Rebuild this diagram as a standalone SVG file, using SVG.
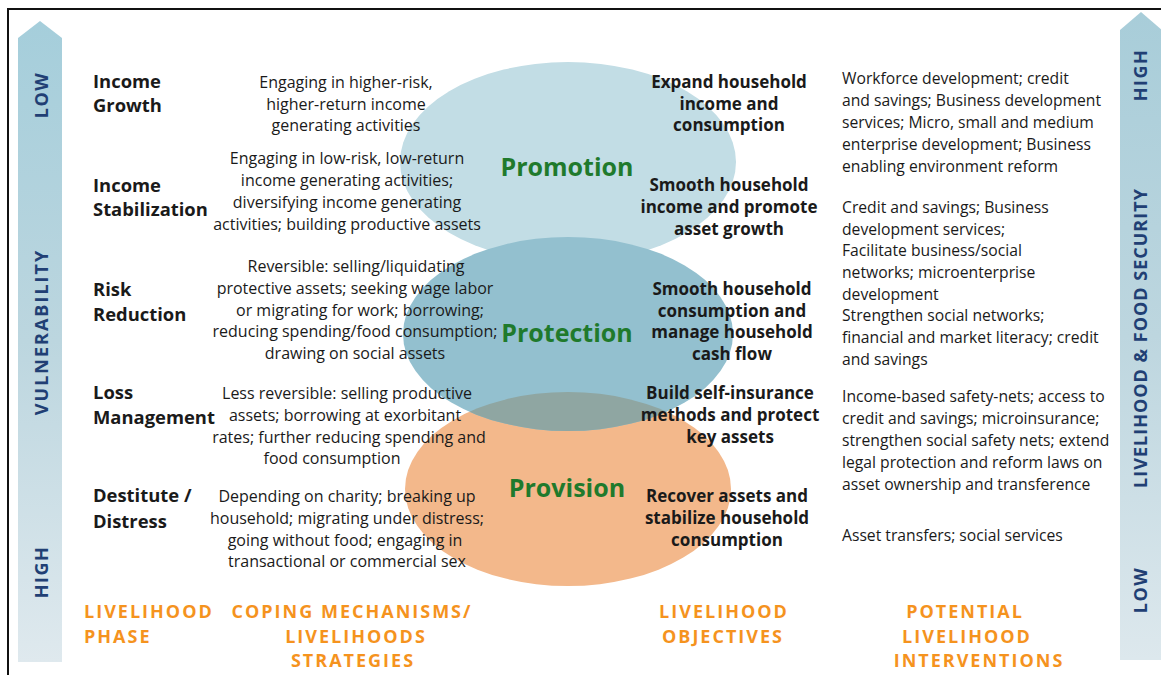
<svg xmlns="http://www.w3.org/2000/svg" width="1161" height="675" viewBox="0 0 1161 675">
<defs>
<linearGradient id="gl" x1="0" y1="0" x2="0" y2="1">
<stop offset="0" stop-color="#a5cedb"/>
<stop offset="0.5" stop-color="#bcd6df"/>
<stop offset="1" stop-color="#dfe9ee"/>
</linearGradient>
<linearGradient id="gr" x1="0" y1="0" x2="0" y2="1">
<stop offset="0" stop-color="#a8cdd9"/>
<stop offset="0.5" stop-color="#bdd6df"/>
<stop offset="1" stop-color="#dde8ed"/>
</linearGradient>
<clipPath id="provClip"><ellipse cx="568" cy="489" rx="163" ry="97"/></clipPath>
</defs>
<style>
.ph{font-family:"Open Sans","Liberation Sans",sans-serif;font-weight:bold;font-size:18.4px;fill:#1a1a1a}
.cp{font-family:"Open Sans","Liberation Sans",sans-serif;font-size:16px;fill:#1a1a1a;text-anchor:middle}
.ob{font-family:"Open Sans","Liberation Sans",sans-serif;font-weight:bold;font-size:17px;fill:#1a1a1a;text-anchor:middle}
.iv{font-family:"Open Sans","Liberation Sans",sans-serif;font-size:15.7px;fill:#1a1a1a}
.el{font-family:"Open Sans","Liberation Sans",sans-serif;font-weight:bold;font-size:25px;fill:#1f7a2c;text-anchor:middle}
.hd{font-family:"Open Sans","Liberation Sans",sans-serif;font-weight:bold;font-size:18px;fill:#f5931e;letter-spacing:2px}
.ax{font-family:"Open Sans","Liberation Sans",sans-serif;font-weight:bold;font-size:18px;fill:#213f74;text-anchor:middle;letter-spacing:1.5px}
.ax2{letter-spacing:1px}
.ax3{letter-spacing:2px}
</style>
<rect x="0" y="0" width="1161" height="675" fill="#ffffff"/>
<path d="M8 675 V9 H1161" fill="none" stroke="#111" stroke-width="2"/>

<g id="axis-vulnerability">
<path d="M18 662 V38 L40 21 L62 38 V662 Z" fill="url(#gl)"/>
<text class="ax" transform="translate(48 95) rotate(-90)">LOW</text>
<text class="ax ax3" transform="translate(48 332) rotate(-90)">VULNERABILITY</text>
<text class="ax" transform="translate(48 572) rotate(-90)">HIGH</text>
</g>
<g id="axis-security">
<path d="M1120 660 V30 L1141 12 L1162 30 V660 Z" fill="url(#gr)"/>
<text class="ax" transform="translate(1147 75) rotate(-90)">HIGH</text>
<text class="ax ax2" transform="translate(1147 338) rotate(-90)">LIVELIHOOD &amp; FOOD SECURITY</text>
<text class="ax" transform="translate(1147 590) rotate(-90)">LOW</text>
</g>

<g id="promotion">
<ellipse cx="568" cy="162" rx="168" ry="100" fill="#c2dde5"/>
<text class="el" x="567" y="176">Promotion</text>
</g>
<g id="provision">
<ellipse cx="568" cy="489" rx="163" ry="97" fill="#f3b88b"/>
</g>
<g id="protection">
<ellipse cx="568" cy="334" rx="165" ry="97" fill="#93c0cf"/>
<ellipse cx="568" cy="334" rx="165" ry="97" fill="#8fa6a2" clip-path="url(#provClip)"/>
<text class="el" x="567" y="342">Protection</text>
</g>
<text class="el" x="567" y="497">Provision</text>

<g id="connectors"/>

<g id="phase-income-growth">
<text class="ph" x="93" y="88">Income</text>
<text class="ph" x="93" y="112">Growth</text>
<text class="cp" x="346" y="88">Engaging in higher-risk,</text>
<text class="cp" x="346" y="110">higher-return income</text>
<text class="cp" x="346" y="131">generating activities</text>
<text class="ob" x="729" y="88">Expand household</text>
<text class="ob" x="729" y="110">income and</text>
<text class="ob" x="729" y="131">consumption</text>
<text class="iv" x="842" y="84">Workforce development; credit</text>
<text class="iv" x="842" y="106">and savings; Business development</text>
<text class="iv" x="842" y="128">services; Micro, small and medium</text>
<text class="iv" x="842" y="150">enterprise development; Business</text>
<text class="iv" x="842" y="172">enabling environment reform</text>
</g>

<g id="phase-income-stabilization">
<text class="ph" x="93" y="192">Income</text>
<text class="ph" x="93" y="216">Stabilization</text>
<text class="cp" x="347" y="164">Engaging in low-risk, low-return</text>
<text class="cp" x="347" y="186">income generating activities;</text>
<text class="cp" x="347" y="208">diversifying income generating</text>
<text class="cp" x="347" y="230">activities; building productive assets</text>
<text class="ob" x="729" y="191">Smooth household</text>
<text class="ob" x="729" y="213">income and promote</text>
<text class="ob" x="729" y="235">asset growth</text>
<text class="iv" x="842" y="213">Credit and savings; Business</text>
<text class="iv" x="842" y="235">development services;</text>
<text class="iv" x="842" y="256">Facilitate business/social</text>
<text class="iv" x="842" y="278">networks; microenterprise</text>
<text class="iv" x="842" y="300">development</text>
</g>

<g id="phase-risk-reduction">
<text class="ph" x="93" y="296">Risk</text>
<text class="ph" x="93" y="321">Reduction</text>
<text class="cp" x="356" y="272">Reversible: selling/liquidating</text>
<text class="cp" x="355" y="294">protective assets; seeking wage labor</text>
<text class="cp" x="360" y="316">or migrating for work; borrowing;</text>
<text class="cp" x="355" y="337">reducing spending/food consumption;</text>
<text class="cp" x="355" y="359">drawing on social assets</text>
<text class="ob" x="732" y="295">Smooth household</text>
<text class="ob" x="732" y="317">consumption and</text>
<text class="ob" x="732" y="338">manage household</text>
<text class="ob" x="732" y="360">cash flow</text>
<text class="iv" x="842" y="321">Strengthen social networks;</text>
<text class="iv" x="842" y="343">financial and market literacy; credit</text>
<text class="iv" x="842" y="365">and savings</text>
</g>

<g id="phase-loss-management">
<text class="ph" x="93" y="399">Loss</text>
<text class="ph" x="93" y="424">Management</text>
<text class="cp" x="347" y="399">Less reversible: selling productive</text>
<text class="cp" x="345" y="421">assets; borrowing at exorbitant</text>
<text class="cp" x="349" y="443">rates; further reducing spending and</text>
<text class="cp" x="332" y="464">food consumption</text>
<text class="ob" x="730" y="399">Build self-insurance</text>
<text class="ob" x="730" y="421">methods and protect</text>
<text class="ob" x="730" y="443">key assets</text>
<text class="iv" x="842" y="402">Income-based safety-nets; access to</text>
<text class="iv" x="842" y="424">credit and savings; microinsurance;</text>
<text class="iv" x="842" y="446">strengthen social safety nets; extend</text>
<text class="iv" x="842" y="468">legal protection and reform laws on</text>
<text class="iv" x="842" y="490">asset ownership and transference</text>
</g>

<g id="phase-destitute">
<text class="ph" x="93" y="502">Destitute /</text>
<text class="ph" x="93" y="528">Distress</text>
<text class="cp" x="347" y="502">Depending on charity; breaking up</text>
<text class="cp" x="347" y="524">household; migrating under distress;</text>
<text class="cp" x="345" y="546">going without food; engaging in</text>
<text class="cp" x="347" y="567">transactional or commercial sex</text>
<text class="ob" x="727" y="502">Recover assets and</text>
<text class="ob" x="727" y="524">stabilize household</text>
<text class="ob" x="727" y="546">consumption</text>
<text class="iv" x="842" y="541">Asset transfers; social services</text>
</g>

<g id="headers">
<text class="hd" x="84" y="618">LIVELIHOOD</text>
<text class="hd" x="84" y="643">PHASE</text>
<text class="hd" x="352" y="618" text-anchor="middle">COPING MECHANISMS/</text>
<text class="hd" x="356" y="643" text-anchor="middle">LIVELIHOODS</text>
<text class="hd" x="353" y="667" text-anchor="middle">STRATEGIES</text>
<text class="hd" x="724" y="618" text-anchor="middle">LIVELIHOOD</text>
<text class="hd" x="723" y="643" text-anchor="middle">OBJECTIVES</text>
<text class="hd" x="965" y="618" text-anchor="middle">POTENTIAL</text>
<text class="hd" x="967" y="643" text-anchor="middle">LIVELIHOOD</text>
<text class="hd" x="979" y="667" text-anchor="middle">INTERVENTIONS</text>
</g>
</svg>
